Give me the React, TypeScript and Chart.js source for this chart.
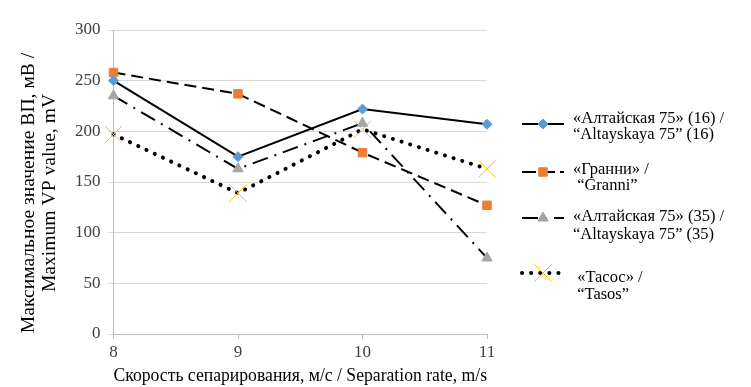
import React, { useEffect, useRef } from "react";
import { Chart, registerables } from "chart.js";

Chart.register(...registerables);

const separationRates = [8, 9, 10, 11];
const altayskaya16 = [250, 175, 222, 207];
const granni = [258, 237, 179, 127];
const altayskaya35 = [235, 163, 208, 75];
const tasos = [197, 139, 202, 163];

const yTicks = { min: 0, max: 300, step: 50 };

const seriesLegend = [
  ["«Алтайская 75» (16) /", "“Altayskaya 75” (16)"],
  ["«Гранни» /", " “Granni”"],
  ["«Алтайская 75» (35) /", "“Altayskaya 75” (35)"],
  [" «Тасос» /", " “Tasos”"],
];

const xTitle = "Скорость сепарирования, м/с / Separation rate, m/s";
const yTitle = ["Максимальное значение ВП, мВ /", "Maximum VP value, mV"];

const FONT = "'Liberation Serif', 'Times New Roman', serif";

function pts(values: number[]) {
  return values.map((v, i) => ({ x: separationRates[i], y: v }));
}

const legendLayout = [
  { lineY: 124, textX: 573, textY: [119, 135] },
  { lineY: 172, textX: 573, textY: [170, 186] },
  { lineY: 218, textX: 573, textY: [217, 235] },
  { lineY: 273, textX: 573, textY: [278, 295] },
];

function drawMarker(ctx: CanvasRenderingContext2D, o: any, x: number, y: number) {
  const r = o.radius;
  ctx.fillStyle = o.backgroundColor;
  ctx.strokeStyle = o.borderColor;
  ctx.lineWidth = o.borderWidth;
  ctx.beginPath();
  switch (o.pointStyle) {
    case "rectRot":
      ctx.moveTo(x - r, y);
      ctx.lineTo(x, y - r);
      ctx.lineTo(x + r, y);
      ctx.lineTo(x, y + r);
      ctx.closePath();
      ctx.fill();
      ctx.stroke();
      break;
    case "rect": {
      const s = Math.SQRT1_2 * r;
      ctx.rect(x - s, y - s, 2 * s, 2 * s);
      ctx.fill();
      ctx.stroke();
      break;
    }
    case "triangle": {
      const a = (Math.PI * 2) / 3;
      ctx.moveTo(x, y - r);
      ctx.lineTo(x + Math.sin(a) * r, y - Math.cos(a) * r);
      ctx.lineTo(x - Math.sin(a) * r, y - Math.cos(a) * r);
      ctx.closePath();
      ctx.fill();
      ctx.stroke();
      break;
    }
    case "crossRot": {
      const d = Math.SQRT1_2 * r;
      ctx.moveTo(x - d, y - d);
      ctx.lineTo(x + d, y + d);
      ctx.moveTo(x - d, y + d);
      ctx.lineTo(x + d, y - d);
      ctx.stroke();
      break;
    }
  }
}

const customPlugin = {
  id: "customDecor",
  afterDraw(chart: any) {
    const ctx = chart.ctx as CanvasRenderingContext2D;
    ctx.save();
    // y title
    ctx.fillStyle = "#000";
    ctx.font = `19.6px ${FONT}`;
    ctx.textAlign = "center";
    ctx.textBaseline = "middle";
    const yc = 193;
    [29, 50].forEach((x, i) => {
      ctx.save();
      ctx.translate(x, yc);
      ctx.rotate(-Math.PI / 2);
      ctx.fillText(yTitle[i], 0, 0);
      ctx.restore();
    });
    // legend
    chart.data.datasets.forEach((ds: any, i: number) => {
      const L = legendLayout[i];
      const x0 = 522, x1 = 564, xm = 543;
      ctx.save();
      ctx.strokeStyle = ds.borderColor;
      ctx.lineWidth = ds.borderWidth;
      ctx.lineCap = ds.borderCapStyle || "butt";
      ctx.setLineDash(ds.legendDash || ds.borderDash || []);
      ctx.beginPath();
      ctx.moveTo(x0, L.lineY);
      ctx.lineTo(x1, L.lineY);
      ctx.stroke();
      ctx.restore();
      const meta = chart.getDatasetMeta(i);
      const el = meta.data[0];
      if (el) {
        ctx.save();
        ctx.setLineDash([]);
        drawMarker(ctx, el.options, xm, L.lineY);
        ctx.restore();
      }
      ctx.fillStyle = "#000";
      ctx.font = `16.5px ${FONT}`;
      ctx.textAlign = "left";
      ctx.textBaseline = "middle";
      seriesLegend[i].forEach((t, j) => ctx.fillText(t, L.textX, L.textY[j]));
    });
    ctx.restore();
  },
};

export default function App() {
  const ref = useRef<HTMLCanvasElement>(null);
  useEffect(() => {
    if (!ref.current) return;
    const tickFont = { family: FONT, size: 17 };
    const chart = new Chart(ref.current, {
      type: "line",
      data: {
        datasets: [
          {
            label: seriesLegend[0].join(" "),
            data: pts(altayskaya16),
            borderColor: "#000",
            borderWidth: 2,
            pointStyle: "rectRot",
            pointRadius: 5,
            pointBackgroundColor: "#5b9bd5",
            pointBorderColor: "#5b9bd5",
            pointBorderWidth: 1,
            clip: false,
          },
          {
            label: seriesLegend[1].join(" "),
            data: pts(granni),
            borderColor: "#000",
            borderWidth: 2,
            borderDash: [12, 6],
            legendDash: [14, 5],
            pointStyle: "rect",
            pointRadius: 6,
            pointBackgroundColor: "#ed7d31",
            pointBorderColor: "#ed7d31",
            pointBorderWidth: 1,
            clip: false,
          },
          {
            label: seriesLegend[2].join(" "),
            data: pts(altayskaya35),
            borderColor: "#000",
            borderWidth: 2,
            borderDash: [16, 7, 2, 7],
            legendDash: [16, 7, 2, 7],
            pointStyle: "triangle",
            pointRadius: 6,
            pointBackgroundColor: "#a5a5a5",
            pointBorderColor: "#a5a5a5",
            pointBorderWidth: 1,
            clip: false,
          },
          {
            label: seriesLegend[3].join(" "),
            data: pts(tasos),
            borderColor: "#000",
            borderWidth: 4,
            borderDash: [0.1, 9],
            borderCapStyle: "round",
            pointStyle: "crossRot",
            pointRadius: 12,
            pointBackgroundColor: "#ffc000",
            pointBorderColor: "#ffc000",
            pointBorderWidth: 1,
            clip: false,
          },
        ] as any,
      },
      options: {
        responsive: false,
        animation: false,
        devicePixelRatio: 1,
        layout: { padding: { left: 67, right: 264, top: 30, bottom: 0 } },
        plugins: { legend: { display: false }, tooltip: { enabled: false } },
        elements: { line: { tension: 0 } },
        scales: {
          x: {
            type: "linear",
            min: separationRates[0],
            max: separationRates[separationRates.length - 1],
            ticks: { stepSize: 1, font: tickFont, color: "#404040", padding: 3 },
            grid: { drawOnChartArea: false, drawTicks: true, tickLength: 5, color: "#bfbfbf" },
            border: { color: "#bfbfbf" },
            title: {
              display: true,
              text: xTitle,
              font: { family: FONT, size: 18 },
              color: "#000",
              padding: { top: 0, bottom: 0 },
            },
          },
          y: {
            min: yTicks.min,
            max: yTicks.max,
            ticks: { stepSize: yTicks.step, font: tickFont, color: "#404040", padding: 8 },
            grid: { color: "#d9d9d9", tickLength: 5 },
            border: { color: "#bfbfbf" },
          },
        },
      },
      plugins: [customPlugin],
    });
    return () => chart.destroy();
  }, []);
  return (
    <div style={{ position: "absolute", left: 0, top: 0, width: 751, height: 387, background: "#fff" }}>
      <canvas ref={ref} width={751} height={387} />
    </div>
  );
}
